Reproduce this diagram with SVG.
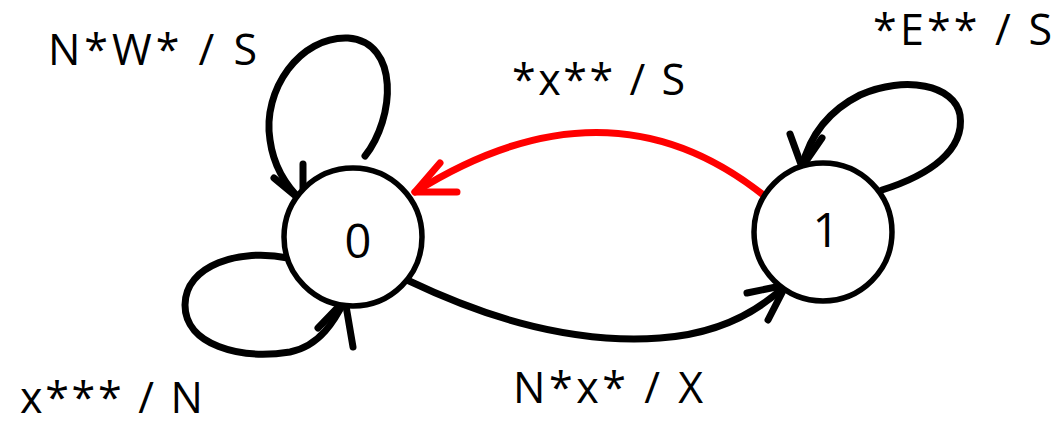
<svg xmlns="http://www.w3.org/2000/svg" width="1057" height="424" viewBox="0 0 1057 424">
<style>
.node{fill:#fff;stroke:#000;stroke-width:5.5}
.edge{fill:none;stroke:#000;stroke-width:7;stroke-linecap:round;stroke-linejoin:round}
.red{stroke:#f00}
.lbl{font-family:"Open Sans","Liberation Sans",sans-serif;font-size:43px;fill:#000}
.num{font-family:"Open Sans","Liberation Sans",sans-serif;font-size:47px;fill:#000;text-anchor:middle}
</style>
<rect width="1057" height="424" fill="#fff"/>
<g id="connectors">
<g id="loop0top">
<path class="edge" d="M365,156 C395,118 400,42 348,38 C300,36 262,90 270,140 C274,170 290,190 303,202"/>
<path class="edge" d="M274,178 L303,202 L303,164"/>
</g>
<g id="loop0bottom">
<path class="edge" d="M288,258 C240,248 185,265 185,305 C185,345 240,360 290,352 C320,346 335,320 345,300"/>
<path class="edge" d="M318,328 L345,300 L353,347"/>
</g>
<g id="loop1top">
<path class="edge" d="M882,190 C930,175 965,150 960,115 C955,85 905,75 860,95 C830,110 810,135 802,167"/>
<path class="edge" d="M790,134 L802,167 L822,138"/>
</g>
<g id="edge1to0">
<path class="edge red" d="M767,198 Q610,70 415,192"/>
<path class="edge red" d="M440,163 L415,192 L457,192"/>
</g>
<g id="edge0to1">
<path class="edge" d="M407,280 C470,310 560,345 660,338 C720,334 760,310 786,285"/>
<path class="edge" d="M747,293 L786,285 L768,320"/>
</g>
</g>
<g id="node0">
<circle class="node" cx="353" cy="237" r="69"/>
<text class="num" x="358" y="258">0</text>
</g>
<g id="node1">
<circle class="node" cx="823" cy="232" r="69"/>
<text class="num" x="826" y="247">1</text>
</g>
<g id="labels">
<text class="lbl" x="48" y="65" textLength="209" lengthAdjust="spacing">N*W* / S</text>
<text class="lbl" x="512" y="95" textLength="173" lengthAdjust="spacing">*x** / S</text>
<text class="lbl" x="873" y="45" textLength="179" lengthAdjust="spacing">*E** / S</text>
<text class="lbl" x="20" y="413" textLength="183" lengthAdjust="spacing">x*** / N</text>
<text class="lbl" x="513" y="403" textLength="190" lengthAdjust="spacing">N*x* / X</text>
</g>
</svg>
